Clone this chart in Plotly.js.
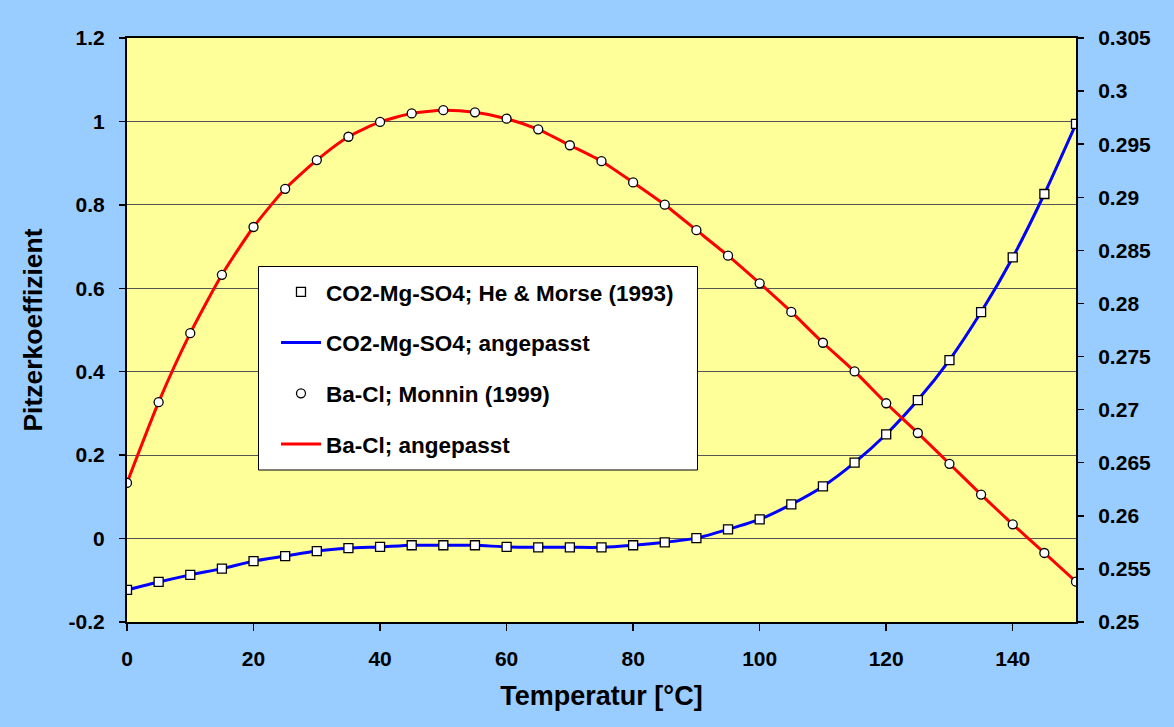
<!DOCTYPE html>
<html>
<head>
<meta charset="utf-8">
<script src="https://cdn.plot.ly/plotly-3.0.1.min.js"></script>
<style>html,body{margin:0;padding:0;background:#99CCFF;}#chart{width:1174px;height:727px;}</style>
</head>
<body>
<div id="chart"></div>
<script>
// Temperature (°C)
const temperatur = [0,5,10,15,20,25,30,35,40,45,50,55,60,65,70,75,80,85,90,95,100,105,110,115,120,125,130,135,140,145,150];

// CO2-Mg-SO4 (left axis)
const co2MgSo4 = [-0.123,-0.104,-0.087,-0.072,-0.054,-0.042,-0.030,-0.023,-0.020,-0.016,-0.016,-0.016,-0.020,-0.021,-0.021,-0.021,-0.016,-0.009,0.001,0.022,0.046,0.082,0.125,0.182,0.250,0.332,0.428,0.543,0.674,0.826,0.994];

// Ba-Cl (right axis)
const baCl = [0.2631,0.2707,0.2772,0.2827,0.2872,0.2908,0.2935,0.2957,0.2971,0.2979,0.2982,0.2980,0.2974,0.2964,0.2949,0.2934,0.2914,0.2893,0.2869,0.2845,0.2819,0.2792,0.2763,0.2736,0.2706,0.2678,0.2649,0.2620,0.2592,0.2565,0.2538];

const xTicks = [0,20,40,60,80,100,120,140];
const yTicks = [-0.2,0,0.2,0.4,0.6,0.8,1.0,1.2];
const yTickText = ['-0.2','0','0.2','0.4','0.6','0.8','1','1.2'];
const y2Ticks = [0.25,0.255,0.26,0.265,0.27,0.275,0.28,0.285,0.29,0.295,0.3,0.305];
const y2TickText = ['0.25','0.255','0.26','0.265','0.27','0.275','0.28','0.285','0.29','0.295','0.3','0.305'];

const names = ['CO2-Mg-SO4; He & Morse (1993)','CO2-Mg-SO4; angepasst','Ba-Cl; Monnin (1999)','Ba-Cl; angepasst'];

const FONT = 'Liberation Sans, Arial, sans-serif';

const traces = [
  {x: temperatur, y: co2MgSo4, mode:'lines', name: names[1], legendgroup:'g2', legendrank:2,
   line:{color:'#0000FF', width:3, shape:'spline', smoothing:0.6}, yaxis:'y'},
  {x: temperatur, y: baCl, mode:'lines', name: names[3], legendgroup:'g4', legendrank:4,
   line:{color:'#FF0000', width:3, shape:'spline', smoothing:0.6}, yaxis:'y2'},
  {x: temperatur, y: co2MgSo4, mode:'markers', name: names[0], legendgroup:'g1', legendrank:1,
   marker:{symbol:'square', size:9, color:'#FFFFFF', line:{color:'#000000', width:1.3}}, yaxis:'y'},
  {x: temperatur, y: baCl, mode:'markers', name: names[2], legendgroup:'g3', legendrank:3,
   marker:{symbol:'circle', size:9, color:'#FFFFFF', line:{color:'#000000', width:1.3}}, yaxis:'y2'}
];

const layout = {
  width:1174, height:727,
  paper_bgcolor:'#99CCFF', plot_bgcolor:'#FFFF99',
  margin:{l:127, r:98, t:38, b:105},
  font:{family:FONT, color:'#000000'},
  showlegend:true,
  legend:{x:0.157, y:0.6015, xanchor:'left', yanchor:'top', bgcolor:'rgba(0,0,0,0)', borderwidth:0,
    font:{family:FONT, size:22.5, weight:'bold'}, tracegroupgap:18.5, itemwidth:40},
  shapes:[{type:'rect', xref:'paper', yref:'paper', x0:(258.5-127)/949, x1:(697.5-127)/949,
    y0:(622-470)/584, y1:(622-266.5)/584, fillcolor:'#FFFFFF', line:{color:'#000000', width:1}, layer:'above'}],
  xaxis:{range:[0,150], tickvals:xTicks, ticks:'outside', ticklen:7, tickwidth:1.5, tickcolor:'#000',
    showline:true, linecolor:'#000', linewidth:2, mirror:true, showgrid:false, zeroline:false,
    tickfont:{family:FONT, size:21, weight:'bold'}, ticklabelstandoff:10,
    title:{text:'Temperatur [°C]', font:{family:FONT, size:27, weight:'bold'}, standoff:17}},
  yaxis:{range:[-0.2,1.2], tickvals:yTicks, ticktext:yTickText, ticks:'outside', ticklen:6, tickwidth:1.5, tickcolor:'#000',
    showline:true, linecolor:'#000', linewidth:2, showgrid:true, gridcolor:'#555555', gridwidth:1, zeroline:false,
    tickfont:{family:FONT, size:21, weight:'bold'}, ticklabelstandoff:10,
    title:{text:'Pitzerkoeffizient', font:{family:FONT, size:26.5, weight:'bold'}, standoff:18}},
  yaxis2:{range:[0.25,0.305], tickvals:y2Ticks, ticktext:y2TickText, overlaying:'y', side:'right', ticks:'outside', ticklen:6, tickwidth:1.5, tickcolor:'#000',
    showline:true, linecolor:'#000', linewidth:2, showgrid:false, zeroline:false,
    tickfont:{family:FONT, size:21, weight:'bold'}, ticklabelstandoff:10}
};

Plotly.newPlot('chart', traces, layout, {displayModeBar:false, staticPlot:true});
</script>
</body>
</html>
